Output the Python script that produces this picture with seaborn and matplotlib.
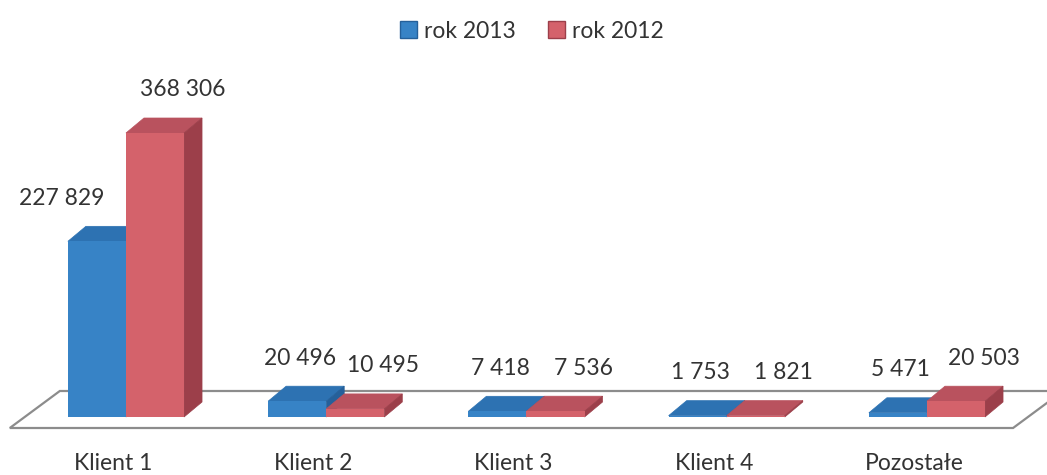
import seaborn as sns
import matplotlib.pyplot as plt
import pandas as pd
from matplotlib.patches import Polygon, Patch

# Data
categories = ['Klient 1', 'Klient 2', 'Klient 3', 'Klient 4', 'Pozostałe']
years = ['rok 2013', 'rok 2012']
values_2013 = [227829, 20496, 7418, 1753, 5471]
values_2012 = [368306, 10495, 7536, 1821, 20503]

front = {'rok 2013': '#3783c6', 'rok 2012': '#d4626b'}
top = {'rok 2013': '#2d72b2', 'rok 2012': '#b9525e'}
side = {'rok 2013': '#25609a', 'rok 2012': '#9c3f4a'}
text_color = '#333333'
fs = 16.5

df = pd.DataFrame({
    'klient': categories * 2,
    'rok': [years[0]] * len(categories) + [years[1]] * len(categories),
    'wartosc': values_2013 + values_2012,
})

W, H = 1047, 475
fig = plt.figure(figsize=(W / 100, H / 100), dpi=100)
ax = fig.add_axes([0, 0, 1, 1])

sns.barplot(data=df, x='klient', y='wartosc', hue='rok', hue_order=years,
            palette=front, width=0.58, gap=0, saturation=1, ax=ax,
            legend=False, linewidth=0, zorder=3)

# axis limits: 1 category = ~200 px, 368 306 = ~284 px, zero at 58 px from bottom
xmin = -0.629
xmax = xmin + W / 200.25
upp = 368306 / 284
ymin = -58 * upp
ymax = ymin + H * upp
ax.set_xlim(xmin, xmax)
ax.set_ylim(ymin, ymax)
ax.axis('off')

ux = (xmax - xmin) / W   # data units per pixel
uy = (ymax - ymin) / H
dx, dy = 18 * ux, 15 * uy  # depth of the 3d bars

# floor (drawn behind everything)
n = len(categories)
fx0, fx1 = -0.58, n - 1 + 0.43
fy0 = -11 * uy
fdx, fdy = 50 * ux, 37 * uy
ax.add_patch(Polygon([(fx0, fy0), (fx1, fy0), (fx1 + fdx, fy0 + fdy), (fx0 + fdx, fy0 + fdy)],
                     closed=True, facecolor='white', edgecolor='#8c8c8c', lw=1.6, zorder=0))

# top and side faces, from the drawn bars
bars = {years[0]: [], years[1]: []}
for i, p in enumerate(ax.patches[:2 * n]):
    yr = years[i // n]
    x0, w, h = p.get_x(), p.get_width(), p.get_height()
    bars[yr].append((x0, w, h))
    z = 1 if yr == years[0] else 2
    ax.add_patch(Polygon([(x0, h), (x0 + w, h), (x0 + w + dx, h + dy), (x0 + dx, h + dy)],
                         closed=True, facecolor=top[yr], edgecolor=top[yr], lw=0.5, zorder=z))
    ax.add_patch(Polygon([(x0 + w, 0), (x0 + w + dx, dy), (x0 + w + dx, h + dy), (x0 + w, h)],
                         closed=True, facecolor=side[yr], edgecolor=side[yr], lw=0.5, zorder=z))

# value labels
for yr, vals in zip(years, [values_2013, values_2012]):
    for j, v in enumerate(vals):
        x0, w, h = bars[yr][j]
        ly = h + 43 * uy
        lx = x0 + w / 2 + (3 if yr == years[0] else 28) * ux
        if yr == years[0]:
            rh = bars[years[1]][j][2]
            if ly - 12 * uy < rh + dy:
                lx = x0 + w / 2 - 35 * ux
        ax.text(lx, ly, f'{v:,}'.replace(',', ' '), ha='center', va='center',
                fontsize=fs, color=text_color, family='Lato', zorder=5)

# category labels
for j, c in enumerate(categories):
    ax.text(j - 13 * ux, ymin + 11 * uy, c, ha='center', va='center',
            fontsize=fs, color=text_color, family='Lato')

handles = [Patch(facecolor=front[y], edgecolor=side[y], label=y) for y in years]
ax.legend(handles=handles, loc='upper center', bbox_to_anchor=(0.508, 1.0), ncol=2,
          frameon=False, handlelength=0.75, handleheight=0.75,
          handletextpad=0.3, columnspacing=1.4, labelcolor=text_color,
          prop={'family': 'Lato', 'size': fs})

fig.savefig('out.png', dpi=100, facecolor='white')
